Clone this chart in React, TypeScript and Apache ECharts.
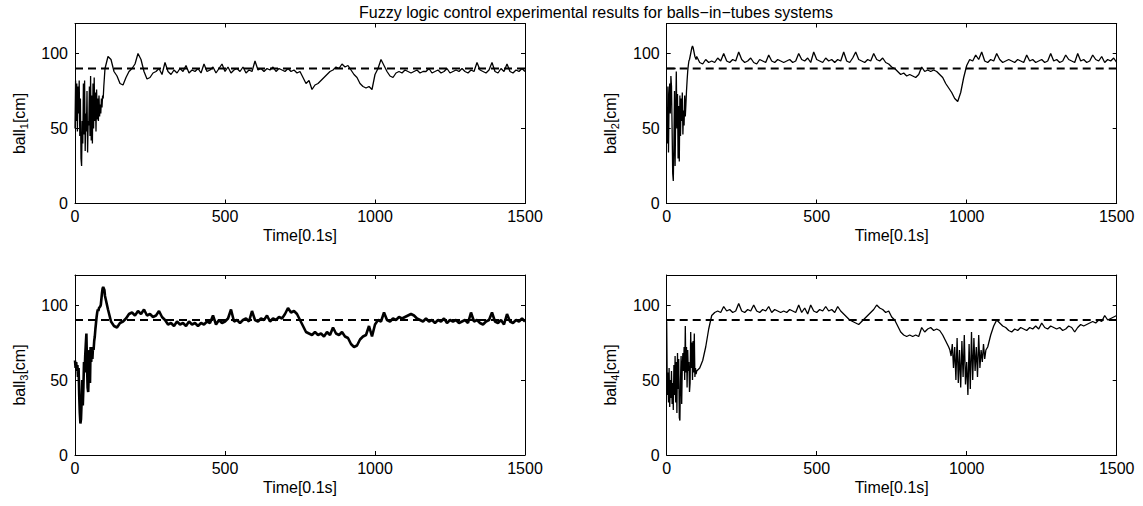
import React, { useEffect, useRef } from "react";
import * as echarts from "echarts";

const TITLE = "Fuzzy logic control experimental results for balls\u2212in\u2212tubes systems";
const X_LABEL = "Time[0.1s]";
const Y_LABELS = ["1", "2", "3", "4"];
const X_TICKS = [0, 500, 1000, 1500];
const Y_TICKS = [0, 50, 100];
const SETPOINT = 90;

function range(a: number, b: number, step: number) {
  const out: number[] = [];
  for (let t = a; t <= b; t += step) out.push(t);
  return out;
}
// sample times: 0..100 every 2, then 110..1500 every 10
const EARLY_TIMES = range(0, 100, 2);
const LATE_TIMES = range(110, 1500, 10);
const TIMES = EARLY_TIMES.concat(LATE_TIMES);
// ball 4 is sampled more finely through its second oscillation
const TIMES4 = EARLY_TIMES.concat(range(110, 940, 10), range(944, 1064, 4), range(1070, 1500, 10));

const BALL1_EARLY = [
  50, 82, 55, 80, 48, 78, 60, 82, 45, 70,
  30, 25, 55, 40, 80, 46, 82, 35, 60, 48,
  75, 34, 55, 52, 78, 45, 85, 42, 72, 40,
  80, 50, 84, 55, 74, 48, 76, 56, 70, 55,
  72, 58, 66, 60, 70, 64, 72, 70, 78, 84,
  90,
];
const BALL1_LATE = [
  98, 96, 88, 85, 80, 79, 84, 88, 90, 93,
  100, 96, 88, 83, 84, 87, 88, 90, 86, 94,
  88, 86, 89, 87, 90, 88, 92, 87, 89, 88,
  90, 87, 93, 88, 89, 91, 87, 90, 93, 88,
  91, 87, 89, 90, 88, 91, 87, 89, 88, 95,
  89, 90, 88, 90, 89, 91, 88, 90, 89, 88,
  90, 88, 89, 87, 88, 84, 80, 82, 76, 79,
  80, 82, 84, 86, 88, 89, 91, 90, 93, 91,
  92, 89, 86, 84, 80, 78, 77, 78, 76, 86,
  90, 96, 92, 88, 85, 84, 87, 88, 87, 89,
  88, 87, 88, 89, 87, 88, 88, 90, 87, 88,
  89, 87, 88, 90, 87, 88, 89, 88, 90, 88,
  87, 89, 88, 94, 89, 88, 87, 89, 94, 88,
  87, 90, 88, 93, 88, 87, 89, 88, 90, 88,
];

const BALL2_EARLY = [
  55, 40, 78, 34, 70, 80, 60, 85, 78, 50,
  20, 15, 40, 75, 25, 60, 88, 50, 73, 30,
  65, 28, 72, 45, 70, 55, 74, 46, 62, 52,
  72, 58, 66, 75, 82, 88, 92, 95, 96, 98,
  100, 102, 104, 105, 104, 102, 100, 98, 97, 96,
  98,
];
const BALL2_LATE = [
  94, 93, 96, 94, 95, 94, 97, 95, 100, 95,
  94, 96, 95, 101, 96, 94, 95, 97, 94, 93,
  96, 95, 94, 99, 95, 94, 96, 95, 94, 95,
  96, 94, 95, 100, 96, 95, 97, 94, 101, 96,
  95, 94, 97, 95, 96, 94, 96, 95, 101, 95,
  94, 97, 101, 96, 95, 94, 96, 95, 100, 96,
  95, 97, 94, 93, 91, 90, 88, 86, 87, 85,
  86, 85, 84, 86, 91, 88, 89, 88, 89, 88,
  86, 84, 80, 77, 74, 70, 68, 74, 84, 92,
  96, 95, 99, 96, 101, 95, 94, 96, 95, 100,
  96, 94, 95, 96, 95, 94, 96, 95, 94, 99,
  95, 96, 94, 95, 96, 94, 95, 100, 95, 96,
  94, 95, 99, 96, 95, 94, 100, 95, 96, 94,
  95, 99, 96, 95, 98, 94, 96, 95, 97, 94,
];

const BALL3_EARLY = [
  63, 58, 62, 56, 60, 52, 58, 40, 28, 21,
  24, 35, 50, 33, 45, 62, 55, 66, 74, 81,
  60, 45, 42, 55, 70, 48, 72, 62, 68, 64,
  72, 70, 76, 79, 84, 88, 92, 95, 97, 96,
  98, 98, 99, 100, 104, 108, 111, 112, 111, 110,
  106,
];
const BALL3_LATE = [
  97, 89, 86, 85, 88, 89, 91, 94, 95, 93,
  96, 94, 97, 93, 94, 92, 93, 96, 92, 90,
  87, 88, 86, 89, 87, 88, 86, 89, 87, 88,
  86, 88, 87, 89, 88, 93, 87, 90, 88, 89,
  91, 97, 89, 90, 88, 90, 91, 89, 96, 90,
  89, 91, 90, 93, 89, 91, 90, 92, 91, 94,
  98, 95, 96, 94, 90, 86, 82, 81, 80, 82,
  80, 81, 79, 82, 80, 85, 81, 80, 82, 79,
  78, 74, 72, 73, 77, 79, 80, 86, 79, 87,
  90, 89, 95, 90, 89, 91, 90, 92, 91, 92,
  93, 94, 93, 91, 90, 89, 91, 89, 90, 88,
  90, 89, 91, 88, 90, 89, 90, 88, 89, 90,
  88, 95, 89, 90, 88, 87, 89, 90, 95, 89,
  88, 90, 87, 94, 89, 88, 90, 89, 91, 89,
];

const BALL4_EARLY = [
  89, 40, 55, 35, 58, 32, 50, 38, 56, 34,
  48, 30, 60, 40, 66, 35, 62, 28, 68, 44,
  64, 25, 23, 50, 66, 34, 60, 68, 56, 72,
  50, 86, 55, 72, 45, 70, 56, 62, 42, 48,
  82, 58, 75, 50, 76, 55, 81, 52, 58, 54,
  56,
];
// 110..940 every 10
const BALL4_MID = [
  58, 63, 72, 84, 93, 95, 96, 95, 99, 96,
  97, 95, 96, 101, 96, 95, 97, 96, 100, 96,
  95, 97, 96, 99, 95, 97, 96, 95, 96, 95,
  97, 96, 95, 100, 95, 98, 94, 100, 96, 95,
  97, 96, 99, 96, 97, 95, 99, 96, 94, 92,
  90, 89, 88, 87, 89, 91, 93, 95, 97, 100,
  98, 97, 95, 96, 92, 90, 86, 82, 80, 79,
  80, 79, 80, 79, 85, 82, 84, 85, 83, 84,
  83, 80, 76, 72,
];
// 944..1064 every 4
const BALL4_DIP = [
  70, 66, 74, 58, 72, 50, 78, 48, 70, 45,
  76, 52, 80, 47, 62, 40, 74, 44, 82, 50,
  78, 56, 72, 52, 80, 58, 70, 62, 74, 64,
  70,
];
// 1070..1500 every 10
const BALL4_END = [
  72, 80, 86, 90,
  88, 86, 85, 83, 82, 84, 83, 85, 84, 83,
  85, 84, 86, 84, 88, 85, 84, 86, 85, 84,
  85, 83, 84, 86, 85, 82, 85, 87, 86, 87,
  88, 89, 88, 90, 89, 93, 90, 91, 92, 93,
];

const SERIES_TIMES = [TIMES, TIMES, TIMES, TIMES4];
const BALLS = [
  BALL1_EARLY.concat(BALL1_LATE),
  BALL2_EARLY.concat(BALL2_LATE),
  BALL3_EARLY.concat(BALL3_LATE),
  BALL4_EARLY.concat(BALL4_MID, BALL4_DIP, BALL4_END),
];
const LINE_WIDTHS = [1.3, 1.3, 2.6, 1.3];

const FONT = "'Liberation Sans', Arial, Helvetica, sans-serif";

const GRIDS = [
  { left: 75, top: 23.5, width: 450, height: 180 },
  { left: 666.7, top: 23.5, width: 450, height: 180 },
  { left: 75, top: 275, width: 450, height: 180 },
  { left: 666.7, top: 275, width: 450, height: 180 },
];

export default function App() {
  const ref = useRef<HTMLDivElement>(null);
  useEffect(() => {
    if (!ref.current) return;
    const chart = echarts.init(ref.current, undefined, { renderer: "svg" });
    const xAxes: any[] = [];
    const yAxes: any[] = [];
    const series: any[] = [];
    const axisLine = { show: true, onZero: false, lineStyle: { color: "#000", width: 1 } };
    const axisTick = { show: true, inside: true, length: 4, lineStyle: { color: "#000", width: 1 } };
    GRIDS.forEach((_, i) => {
      xAxes.push({
        type: "value", gridIndex: i, position: "bottom", min: 0, max: 1500, interval: 500,
        axisLine, axisTick, splitLine: { show: false },
        axisLabel: {
          color: "#000", fontSize: 16, fontFamily: FONT, margin: 5,
          formatter: (v: number) => (X_TICKS.includes(v) ? String(v) : ""),
        },
        name: X_LABEL, nameLocation: "middle", nameGap: 24,
        nameTextStyle: { color: "#000", fontSize: 16, fontFamily: FONT },
      });
      xAxes.push({
        type: "value", gridIndex: i, position: "top", min: 0, max: 1500, interval: 500,
        axisLine, axisTick, splitLine: { show: false }, axisLabel: { show: false },
      });
      yAxes.push({
        type: "value", gridIndex: i, position: "left", min: 0, max: 120, interval: 50,
        axisLine, axisTick, splitLine: { show: false },
        axisLabel: {
          color: "#000", fontSize: 16, fontFamily: FONT, margin: 7, showMaxLabel: false,
          formatter: (v: number) => (Y_TICKS.includes(v) ? String(v) : ""),
        },
        name: `{a|ball}{s|${Y_LABELS[i]}}{a|[cm]}`, nameLocation: "middle", nameGap: 46,
        nameTextStyle: {
          color: "#000", fontSize: 16, fontFamily: FONT, padding: [0, 20, 0, 0],
          rich: {
            a: { fontSize: 16, fontFamily: FONT, color: "#000" },
            s: { fontSize: 11, fontFamily: FONT, color: "#000", padding: [9, 0, 0, 0] },
          },
        },
      });
      yAxes.push({
        type: "value", gridIndex: i, position: "right", min: 0, max: 120, interval: 50,
        axisLine, axisTick, splitLine: { show: false }, axisLabel: { show: false },
      });
      series.push({
        type: "line", xAxisIndex: 2 * i, yAxisIndex: 2 * i, showSymbol: false, silent: true,
        data: SERIES_TIMES[i].map((t, k) => [t, BALLS[i][k]]),
        lineStyle: { color: "#000", width: LINE_WIDTHS[i] }, z: 2,
      });
      series.push({
        type: "line", xAxisIndex: 2 * i, yAxisIndex: 2 * i, showSymbol: false, silent: true,
        data: [[X_TICKS[0], SETPOINT], [X_TICKS[X_TICKS.length - 1], SETPOINT]],
        lineStyle: { color: "#000", width: 2.2, type: [8, 5] }, z: 3,
      });
    });
    series.push({
      type: "line", xAxisIndex: 2, yAxisIndex: 2, showSymbol: false, silent: true,
      data: [[0, SETPOINT], [30, SETPOINT]],
      lineStyle: { color: "#000", width: 1.6 }, z: 3,
    });
    chart.setOption({
      animation: false,
      backgroundColor: "#fff",
      grid: GRIDS.map((g) => ({ ...g, containLabel: false })),
      xAxis: xAxes,
      yAxis: yAxes,
      series,
      graphic: [
        {
          type: "text", x: 596, y: 12,
          style: { text: TITLE, fill: "#000", font: `16px ${FONT}`, textAlign: "center", textVerticalAlign: "middle" },
        },
      ],
    });
    return () => chart.dispose();
  }, []);
  return <div ref={ref} style={{ position: "absolute", left: 0, top: 0, width: 1143, height: 506 }} />;
}
